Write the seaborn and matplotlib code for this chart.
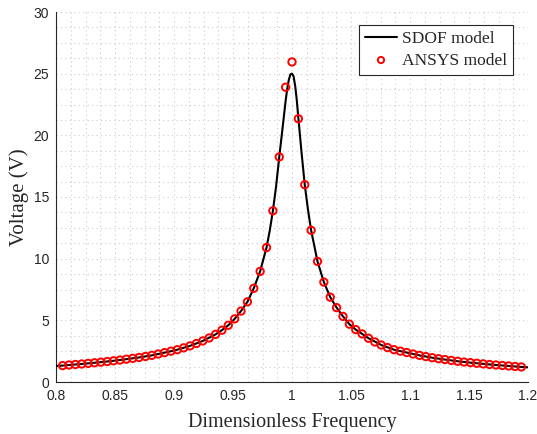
import numpy as np
import pandas as pd
import matplotlib
matplotlib.use("Agg")
import matplotlib.pyplot as plt
from matplotlib.ticker import MultipleLocator, FixedLocator
import seaborn as sns

# ---- data ----
ansys_freq = [0.8056, 0.8110, 0.8164, 0.8218, 0.8272, 0.8326, 0.8380, 0.8434, 0.8488, 0.8542,
              0.8596, 0.8650, 0.8704, 0.8758, 0.8812, 0.8866, 0.8920, 0.8974, 0.9028, 0.9082,
              0.9136, 0.9190, 0.9244, 0.9298, 0.9352, 0.9406, 0.9460, 0.9514, 0.9568, 0.9622,
              0.9676, 0.9730, 0.9784, 0.9838, 0.9892, 0.9946, 1.0000,
              1.0054, 1.0108, 1.0162, 1.0216, 1.0270, 1.0324, 1.0378, 1.0432, 1.0486, 1.0540,
              1.0594, 1.0648, 1.0702, 1.0756, 1.0810, 1.0864, 1.0918, 1.0972, 1.1026, 1.1080,
              1.1134, 1.1188, 1.1242, 1.1296, 1.1350, 1.1404, 1.1458, 1.1512, 1.1566, 1.1620,
              1.1674, 1.1728, 1.1782, 1.1836, 1.1890, 1.1944]
ansys_volt = [1.33, 1.38, 1.42, 1.46, 1.51, 1.56, 1.61, 1.66, 1.72, 1.78,
              1.85, 1.92, 1.99, 2.07, 2.16, 2.27, 2.38, 2.50, 2.62, 2.77,
              2.93, 3.12, 3.33, 3.57, 3.86, 4.20, 4.60, 5.12, 5.75, 6.50,
              7.60, 8.97, 10.90, 13.88, 18.25, 23.90, 25.95,
              21.35, 16.00, 12.30, 9.78, 8.10, 6.88, 6.03, 5.32, 4.69, 4.25,
              3.90, 3.55, 3.25, 3.00, 2.79, 2.62, 2.50, 2.39, 2.27, 2.16,
              2.06, 1.97, 1.89, 1.82, 1.75, 1.68, 1.62, 1.57, 1.52, 1.47,
              1.42, 1.38, 1.34, 1.30, 1.26, 1.22]

sdof_freq = [0.8000, 0.8056, 0.8164, 0.8272, 0.8380, 0.8488, 0.8596, 0.8704, 0.8812, 0.8920,
             0.9028, 0.9136, 0.9244, 0.9352, 0.9406, 0.9460, 0.9514, 0.9568, 0.9622, 0.9676,
             0.9730, 0.9784, 0.9811, 0.9838, 0.9865, 0.9892, 0.9919, 0.9946, 0.9960, 0.9973,
             0.9987, 1.0000, 1.0013, 1.0027, 1.0040, 1.0054, 1.0081, 1.0108, 1.0135, 1.0162,
             1.0216, 1.0270, 1.0324, 1.0378, 1.0432, 1.0486, 1.0540, 1.0594, 1.0648, 1.0756,
             1.0864, 1.0972, 1.1080, 1.1188, 1.1296, 1.1404, 1.1512, 1.1620, 1.1728, 1.1836,
             1.1944, 1.2000]
sdof_volt = [1.30, 1.33, 1.42, 1.51, 1.61, 1.72, 1.85, 1.99, 2.16, 2.38,
             2.62, 2.93, 3.33, 3.86, 4.20, 4.60, 5.12, 5.75, 6.50, 7.60,
             8.97, 10.90, 12.25, 13.88, 15.85, 18.25, 20.50, 22.80, 23.80, 24.50,
             24.95, 25.00, 24.80, 24.00, 22.90, 21.40, 18.60, 16.00, 14.00, 12.30,
             9.78, 8.10, 6.88, 6.03, 5.32, 4.69, 4.25, 3.90, 3.55, 3.00,
             2.62, 2.39, 2.16, 1.97, 1.82, 1.68, 1.57, 1.47, 1.38, 1.30,
             1.22, 1.19]

x_ticks = [0.8, 0.85, 0.9, 0.95, 1.0, 1.05, 1.1, 1.15, 1.2]
x_tick_labels = ["0.8", "0.85", "0.9", "0.95", "1", "1.05", "1.1", "1.15", "1.2"]
y_ticks = [0, 5, 10, 15, 20, 25, 30]

sdof_df = pd.DataFrame({"freq": sdof_freq, "volt": sdof_volt})
ansys_df = pd.DataFrame({"freq": ansys_freq, "volt": ansys_volt})

sns.set_style("white")
plt.rcParams["font.family"] = ["Liberation Sans", "DejaVu Sans"]

fig = plt.figure(figsize=(5.37, 4.34), dpi=100)
ax = fig.add_axes([56 / 537, 1 - 382 / 434, (528 - 56) / 537, (382 - 12) / 434])

sns.lineplot(data=sdof_df, x="freq", y="volt", ax=ax, color="black", linewidth=1.5,
             label="SDOF model", sort=False, estimator=None, zorder=3)
sns.scatterplot(data=ansys_df, x="freq", y="volt", ax=ax, marker="o", s=28,
                facecolor="none", edgecolor="#ff0000", linewidth=1.4,
                label="ANSYS model", zorder=4)

ax.set_xlim(0.8, 1.2)
ax.set_ylim(0, 30)
ax.xaxis.set_major_locator(FixedLocator(x_ticks))
ax.set_xticklabels(x_tick_labels)
ax.yaxis.set_major_locator(FixedLocator(y_ticks))
ax.set_yticklabels([str(v) for v in y_ticks])
ax.xaxis.set_minor_locator(MultipleLocator(0.0125))
ax.yaxis.set_minor_locator(MultipleLocator(1.25))

ax.grid(True, which="both", linestyle=(0, (1, 3)), color="#cccccc", linewidth=0.8)
ax.set_axisbelow(True)

for side in ["top", "right"]:
    ax.spines[side].set_visible(False)
for side in ["left", "bottom"]:
    ax.spines[side].set_color("#262626")
    ax.spines[side].set_linewidth(0.8)

ax.tick_params(axis="both", which="major", direction="in", length=5, width=0.8,
               color="#262626", labelsize=10, labelcolor="#262626", pad=5)
ax.tick_params(axis="both", which="minor", length=0)

serif = ["Liberation Serif", "DejaVu Serif"]
ax.set_xlabel("Dimensionless Frequency", fontsize=14.5, family=serif, color="#262626", labelpad=7)
ax.set_ylabel("Voltage (V)", fontsize=15, family=serif, color="#262626", labelpad=3)

leg = ax.legend(loc="upper right", bbox_to_anchor=(513 / 537, 1 - 25 / 434),
                bbox_transform=fig.transFigure, frameon=True, fancybox=False,
                edgecolor="#262626", framealpha=1, borderpad=0.35, handlelength=1.8,
                handletextpad=0.3, labelspacing=0.3, borderaxespad=0,
                prop={"family": serif, "size": 12.5})
leg.get_frame().set_linewidth(0.8)
for h in leg.legend_handles:
    try:
        h.set_sizes([20])
    except AttributeError:
        pass

fig.savefig("out.png", dpi=100)
